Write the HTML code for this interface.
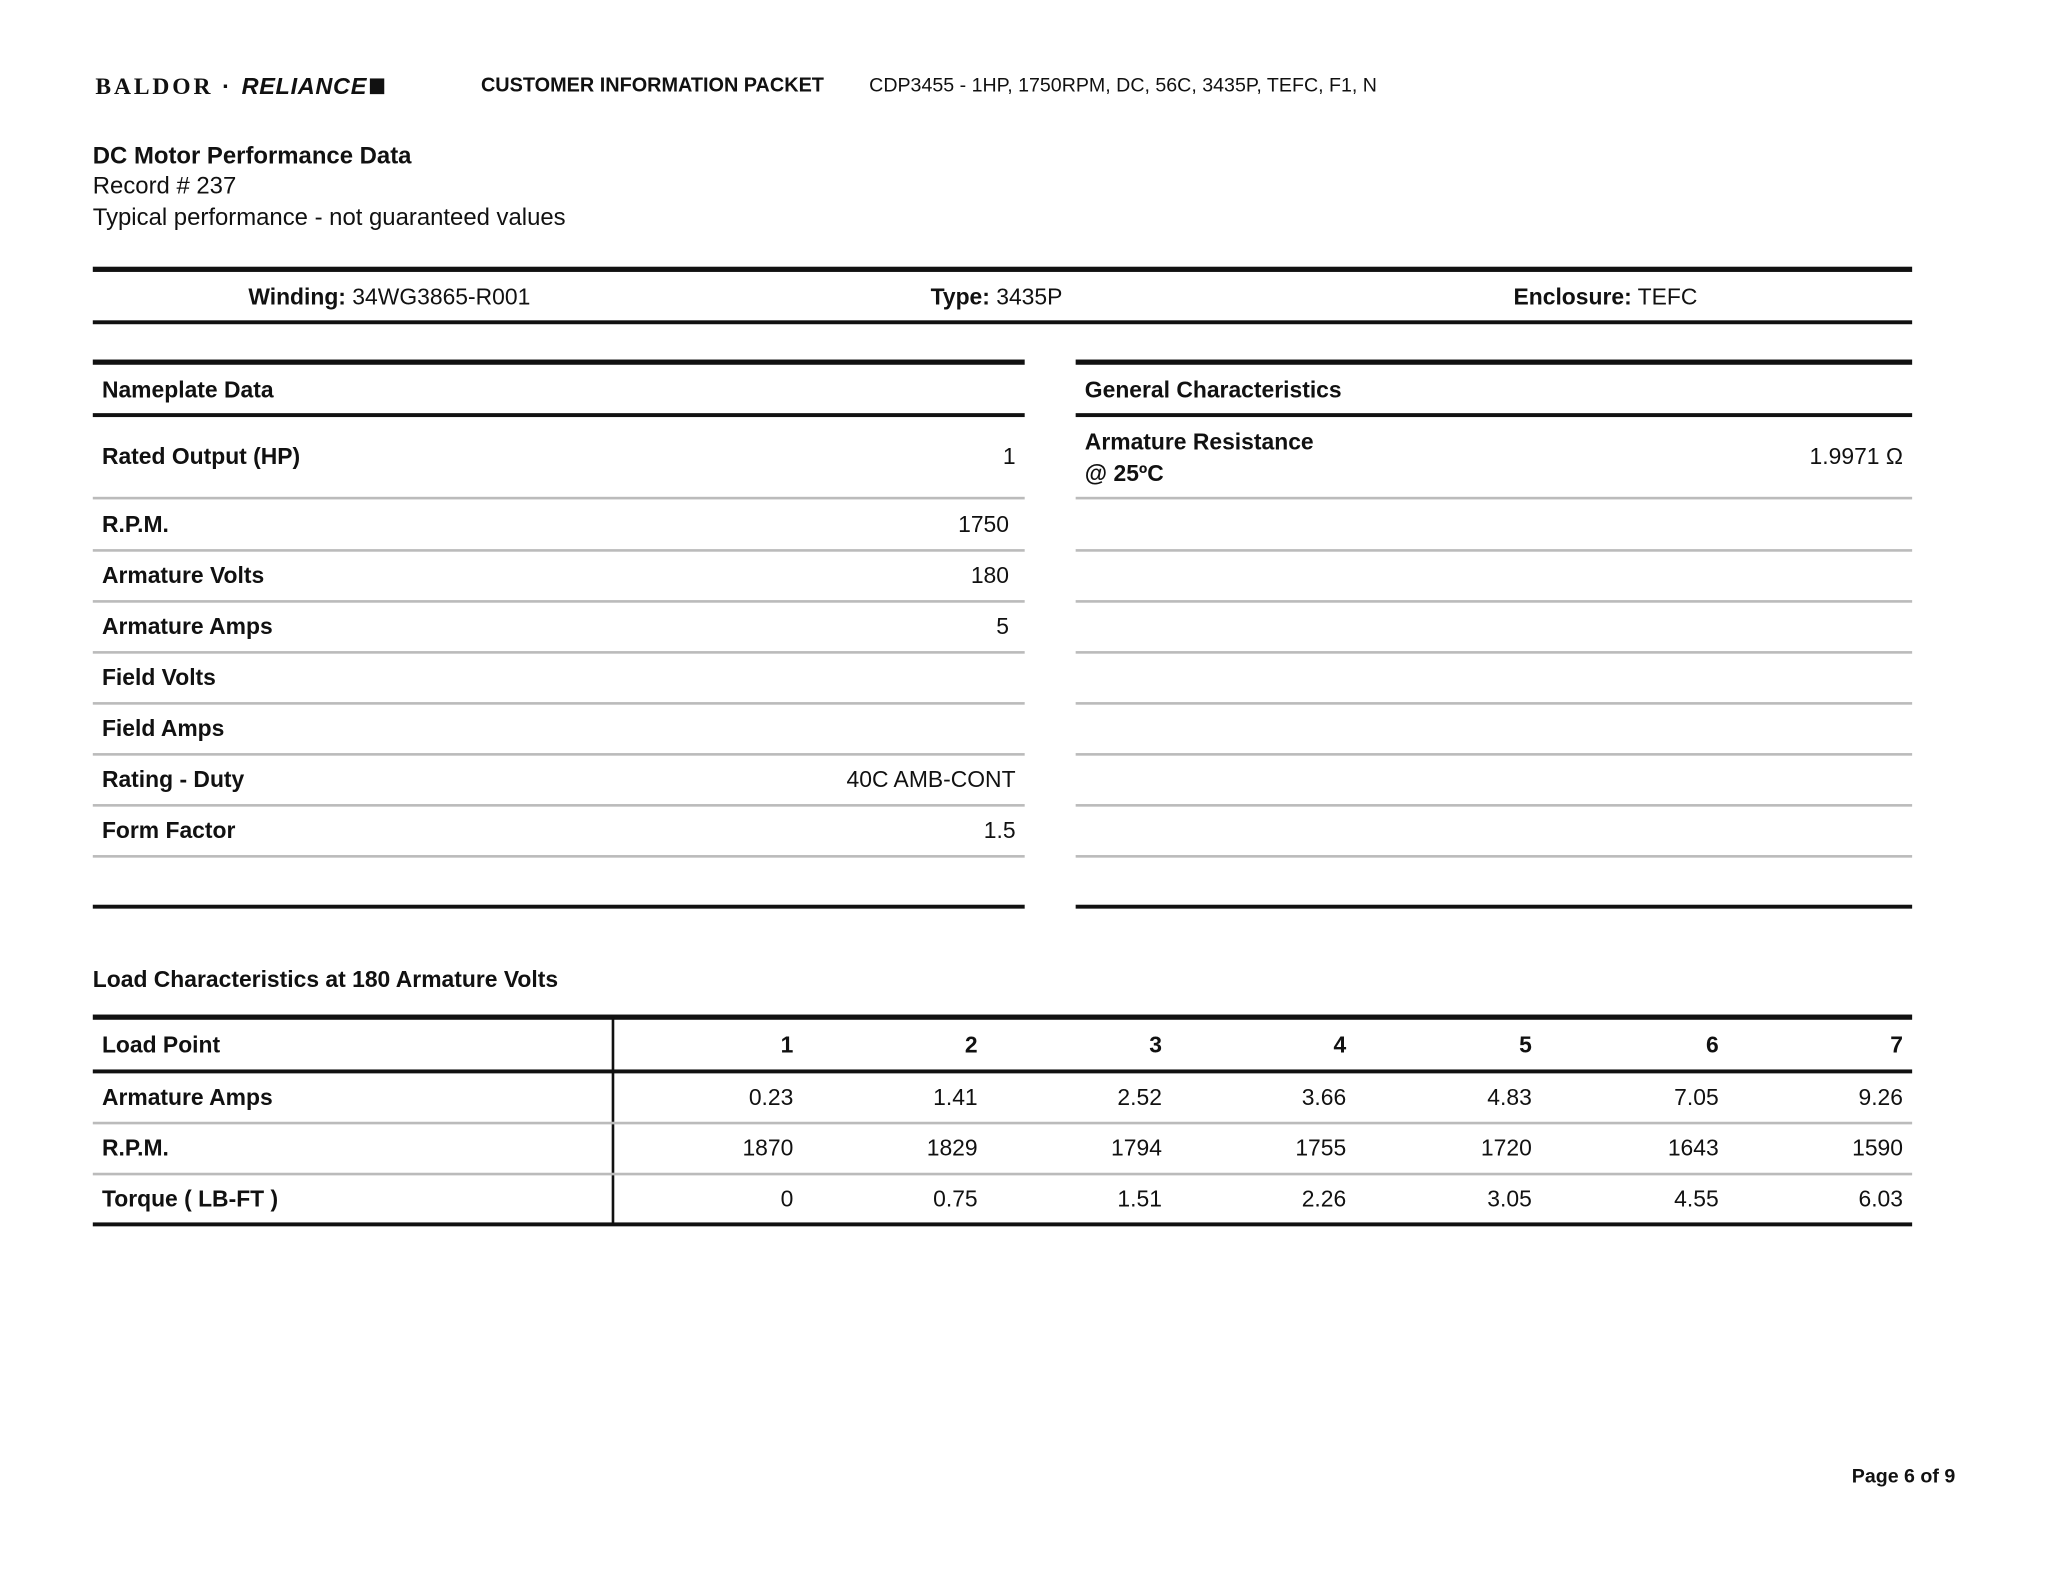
<!DOCTYPE html>
<html><head><meta charset="utf-8"><style>
html,body{margin:0;padding:0;background:#fff;}
body{width:2048px;height:1582px;overflow:hidden;position:relative;}
#p{position:absolute;left:0;top:0;width:1567px;height:1210px;transform-origin:0 0;transform:scale(1.3070,1.3074);font-family:"Liberation Sans",sans-serif;color:#111;}
.t{position:absolute;line-height:20px;height:20px;white-space:nowrap;font-size:17.5px;}
.b{font-weight:bold;}
.r{text-align:right;}
.ln{position:absolute;background:#111;}
.g{position:absolute;background:#bbb;height:1.5px;}
</style></head><body><div id="p">
<div class="t b" style="left:73px;top:56px;font-family:'Liberation Serif',serif;font-size:18px;letter-spacing:2.2px;">BALDOR <span style="font-family:'Liberation Sans';">·</span> <i style="font-family:'Liberation Sans';letter-spacing:0.5px">RELIANCE</i><span style="display:inline-block;width:11px;height:12px;background:#111;margin-left:2px"></span></div>
<div class="t b" style="left:368px;top:56px;font-size:15.2px;">CUSTOMER INFORMATION PACKET</div>
<div class="t" style="left:665px;top:56px;font-size:15px;">CDP3455 - 1HP, 1750RPM, DC, 56C, 3435P, TEFC, F1, N</div>

<div class="t b" style="left:71px;top:109px;font-size:18.3px;">DC Motor Performance Data</div>
<div class="t" style="left:71px;top:132px;font-size:18.3px;">Record # 237</div>
<div class="t" style="left:71px;top:156px;font-size:18.3px;">Typical performance - not guaranteed values</div>

<div class="ln" style="left:71px;top:204px;width:1392px;height:4px;"></div>
<div class="t" style="left:190px;top:217px;"><b>Winding:</b> 34WG3865-R001</div>
<div class="t" style="left:712px;top:217px;"><b>Type:</b> 3435P</div>
<div class="t" style="left:1158px;top:217px;"><b>Enclosure:</b> TEFC</div>
<div class="ln" style="left:71px;top:245px;width:1392px;height:3px;"></div>

<div class="ln" style="left:71px;top:275px;width:713px;height:4px;"></div>
<div class="ln" style="left:823px;top:275px;width:640px;height:4px;"></div>
<div class="t b" style="left:78px;top:288px;">Nameplate Data</div>
<div class="t b" style="left:830px;top:288px;">General Characteristics</div>
<div class="ln" style="left:71px;top:316px;width:713px;height:3px;"></div>
<div class="ln" style="left:823px;top:316px;width:640px;height:3px;"></div>

<div class="t b" style="left:78px;top:339px;">Rated Output (HP)</div>
<div class="t r" style="left:600px;width:177px;top:339px;">1</div>
<div class="t b" style="left:830px;top:328px;">Armature Resistance</div>
<div class="t b" style="left:830px;top:352px;">@ 25ºC</div>
<div class="t r" style="left:1250px;width:206px;top:339px;">1.9971 Ω</div>

<div class="g" style="left:71px;top:380px;width:713px;"></div><div class="g" style="left:823px;top:380px;width:640px;"></div>
<div class="t b" style="left:78px;top:391px;">R.P.M.</div><div class="t r" style="left:600px;width:172px;top:391px;">1750</div>
<div class="g" style="left:71px;top:420px;width:713px;"></div><div class="g" style="left:823px;top:420px;width:640px;"></div>
<div class="t b" style="left:78px;top:430px;">Armature Volts</div><div class="t r" style="left:600px;width:172px;top:430px;">180</div>
<div class="g" style="left:71px;top:459px;width:713px;"></div><div class="g" style="left:823px;top:459px;width:640px;"></div>
<div class="t b" style="left:78px;top:469px;">Armature Amps</div><div class="t r" style="left:600px;width:172px;top:469px;">5</div>
<div class="g" style="left:71px;top:498px;width:713px;"></div><div class="g" style="left:823px;top:498px;width:640px;"></div>
<div class="t b" style="left:78px;top:508px;">Field Volts</div>
<div class="g" style="left:71px;top:537px;width:713px;"></div><div class="g" style="left:823px;top:537px;width:640px;"></div>
<div class="t b" style="left:78px;top:547px;">Field Amps</div>
<div class="g" style="left:71px;top:576px;width:713px;"></div><div class="g" style="left:823px;top:576px;width:640px;"></div>
<div class="t b" style="left:78px;top:586px;">Rating - Duty</div><div class="t r" style="left:560px;width:217px;top:586px;">40C AMB-CONT</div>
<div class="g" style="left:71px;top:615px;width:713px;"></div><div class="g" style="left:823px;top:615px;width:640px;"></div>
<div class="t b" style="left:78px;top:625px;">Form Factor</div><div class="t r" style="left:600px;width:177px;top:625px;">1.5</div>
<div class="g" style="left:71px;top:654px;width:713px;"></div><div class="g" style="left:823px;top:654px;width:640px;"></div>
<div class="ln" style="left:71px;top:692px;width:713px;height:3px;"></div>
<div class="ln" style="left:823px;top:692px;width:640px;height:3px;"></div>

<div class="t b" style="left:71px;top:739px;">Load Characteristics at 180 Armature Volts</div>
<div class="ln" style="left:71px;top:776px;width:1392px;height:4px;"></div>
<div class="ln" style="left:468px;top:778px;width:2px;height:159px;"></div>
<div class="ln" style="left:71px;top:818px;width:1392px;height:3px;"></div>
<div class="g" style="left:71px;top:858px;width:1392px;"></div>
<div class="g" style="left:71px;top:897px;width:1392px;"></div>
<div class="ln" style="left:71px;top:935px;width:1392px;height:3px;"></div>

<div class="t b" style="left:78px;top:789px;">Load Point</div>
<div class="t b" style="left:78px;top:829px;">Armature Amps</div>
<div class="t b" style="left:78px;top:868px;">R.P.M.</div>
<div class="t b" style="left:78px;top:907px;">Torque ( LB-FT )</div>

<div class="t b r" style="left:507px;width:100px;top:789px;">1</div>
<div class="t b r" style="left:648px;width:100px;top:789px;">2</div>
<div class="t b r" style="left:789px;width:100px;top:789px;">3</div>
<div class="t b r" style="left:930px;width:100px;top:789px;">4</div>
<div class="t b r" style="left:1072px;width:100px;top:789px;">5</div>
<div class="t b r" style="left:1215px;width:100px;top:789px;">6</div>
<div class="t b r" style="left:1356px;width:100px;top:789px;">7</div>

<div class="t r" style="left:507px;width:100px;top:829px;">0.23</div>
<div class="t r" style="left:648px;width:100px;top:829px;">1.41</div>
<div class="t r" style="left:789px;width:100px;top:829px;">2.52</div>
<div class="t r" style="left:930px;width:100px;top:829px;">3.66</div>
<div class="t r" style="left:1072px;width:100px;top:829px;">4.83</div>
<div class="t r" style="left:1215px;width:100px;top:829px;">7.05</div>
<div class="t r" style="left:1356px;width:100px;top:829px;">9.26</div>

<div class="t r" style="left:507px;width:100px;top:868px;">1870</div>
<div class="t r" style="left:648px;width:100px;top:868px;">1829</div>
<div class="t r" style="left:789px;width:100px;top:868px;">1794</div>
<div class="t r" style="left:930px;width:100px;top:868px;">1755</div>
<div class="t r" style="left:1072px;width:100px;top:868px;">1720</div>
<div class="t r" style="left:1215px;width:100px;top:868px;">1643</div>
<div class="t r" style="left:1356px;width:100px;top:868px;">1590</div>

<div class="t r" style="left:507px;width:100px;top:907px;">0</div>
<div class="t r" style="left:648px;width:100px;top:907px;">0.75</div>
<div class="t r" style="left:789px;width:100px;top:907px;">1.51</div>
<div class="t r" style="left:930px;width:100px;top:907px;">2.26</div>
<div class="t r" style="left:1072px;width:100px;top:907px;">3.05</div>
<div class="t r" style="left:1215px;width:100px;top:907px;">4.55</div>
<div class="t r" style="left:1356px;width:100px;top:907px;">6.03</div>

<div class="t b r" style="left:1300px;width:196px;top:1120px;font-size:15px;">Page 6 of 9</div>
</div></body></html>
